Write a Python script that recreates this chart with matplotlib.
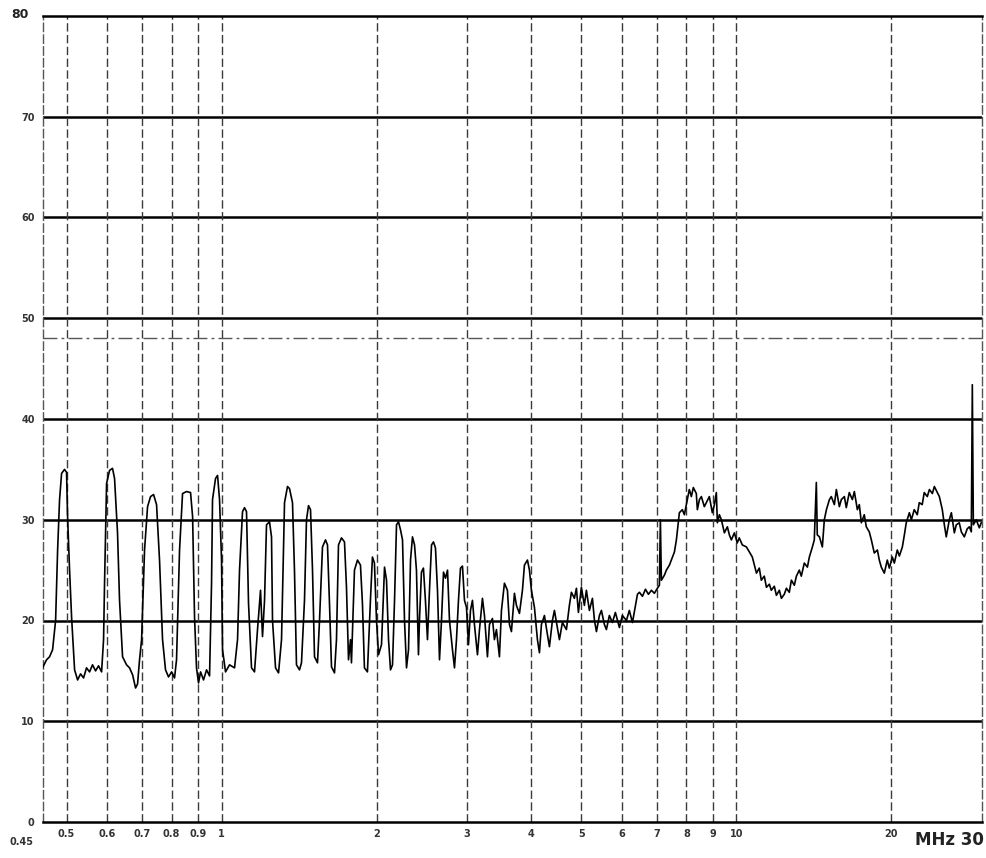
import matplotlib
matplotlib.use("Agg")
import matplotlib.pyplot as plt

# Conducted emission scan, 0.45 - 30 MHz, level in dBuV
freq_low = [0.449, 0.4572, 0.4634, 0.4697, 0.4761, 0.4804, 0.4846, 0.4890, 0.4955, 0.5000,
            0.5023, 0.5068, 0.5114, 0.5183, 0.5253, 0.5323, 0.5395, 0.5467, 0.5542, 0.5616,
            0.5692, 0.5769, 0.5848, 0.5900, 0.5926, 0.5980, 0.6060, 0.6141, 0.6197, 0.6280,
            0.6337, 0.6423, 0.6539, 0.6627, 0.6719, 0.6808, 0.6869, 0.6930, 0.6994, 0.7087,
            0.7183, 0.7280, 0.7379, 0.7478, 0.7578, 0.7681, 0.7784, 0.7889, 0.7998, 0.8104,
            0.8177, 0.8288, 0.8400, 0.8551, 0.8706, 0.8786, 0.8863, 0.8941, 0.9022, 0.9105,
            0.9226, 0.9352, 0.9478, 0.9563, 0.9605, 0.9735, 0.9823, 0.9911, 1.0000, 1.0045,
            1.018, 1.0364]
level_low = [15.3, 16.1, 16.4, 17.1, 20.0, 27.0, 32.0, 34.6, 35.0, 34.7,
             30.3, 25.0, 20.3, 15.1, 14.1, 14.7, 14.3, 15.3, 14.9, 15.6,
             15.0, 15.5, 14.9, 18.1, 23.7, 33.6, 34.9, 35.1, 34.1, 28.7,
             22.0, 16.4, 15.6, 15.3, 14.6, 13.3, 13.7, 16.1, 18.1, 27.0,
             31.3, 32.3, 32.5, 31.5, 26.0, 18.1, 15.1, 14.4, 14.9, 14.3,
             16.1, 27.0, 32.6, 32.8, 32.7, 30.3, 20.3, 15.3, 13.8, 14.9,
             14.1, 15.1, 14.5, 23.7, 32.0, 34.1, 34.4, 32.0, 26.0, 17.1,
             14.9, 15.6]

freq_mid = [1.0599, 1.0742, 1.0838, 1.0984, 1.1083, 1.1182, 1.1283, 1.1435, 1.1589, 1.1746,
            1.1905, 1.2011, 1.2120, 1.2228, 1.2393, 1.2505, 1.2561, 1.2732, 1.2903, 1.3077,
            1.3254, 1.3432, 1.3552, 1.3735, 1.3857, 1.3982, 1.4171, 1.4299, 1.4492, 1.4622,
            1.4755, 1.4888, 1.5021, 1.5156, 1.5360, 1.5499, 1.5707, 1.5920, 1.6062, 1.6206,
            1.6352, 1.6574, 1.6721, 1.6872, 1.7100, 1.7331, 1.7486, 1.7645, 1.7803, 1.7880,
            1.8122, 1.8367, 1.8614, 1.8780, 1.8948, 1.9204, 1.9463, 1.9639, 1.9815, 2.0000,
            2.0180, 2.0452, 2.0729, 2.0915, 2.1103, 2.1292, 2.1483, 2.1678, 2.1871, 2.2066,
            2.2266, 2.2466, 2.2668, 2.2872, 2.3078, 2.3285, 2.3490, 2.3706, 2.3912, 2.4127,
            2.4234, 2.4452, 2.4669, 2.4891, 2.5119, 2.5346, 2.5577, 2.5802, 2.6034, 2.6270,
            2.6507, 2.6745, 2.6986, 2.7228, 2.7475, 2.7719, 2.8092, 2.8345, 2.8599, 2.8855,
            2.9115, 2.9376, 2.9640, 2.9907]
level_mid = [15.3, 18.1, 25.0, 30.8, 31.2, 30.8, 21.7, 15.3, 14.9, 19.1,
             23.0, 18.4, 22.0, 29.5, 29.8, 28.3, 20.0, 15.3, 14.8, 18.1,
             31.7, 33.3, 33.1, 31.7, 25.0, 15.6, 15.1, 15.8, 22.0, 30.0,
             31.4, 31.0, 25.0, 16.4, 15.8, 20.0, 27.3, 28.0, 27.5, 21.7,
             15.4, 14.8, 18.1, 27.5, 28.2, 27.8, 23.3, 16.1, 18.1, 15.8,
             25.0, 26.0, 25.5, 21.7, 15.3, 14.9, 22.0, 26.3, 25.7, 20.0,
             16.6, 17.6, 25.3, 24.0, 18.1, 15.1, 15.6, 22.0, 29.5, 29.8,
             29.0, 28.0, 20.0, 15.3, 17.1, 26.0, 28.3, 27.5, 25.0, 16.6,
             20.0, 24.8, 25.2, 22.0, 18.1, 23.0, 27.5, 27.8, 27.2, 23.0,
             16.1, 20.0, 24.8, 24.2, 25.0, 20.0, 17.1, 15.3, 18.1, 22.0,
             25.2, 25.4, 22.0, 21.3]

freq_floor = [3.0176, 3.0446, 3.0718, 3.0992, 3.1413, 3.1697, 3.2123, 3.2413, 3.2848, 3.3143,
              3.3590, 3.3888, 3.4198, 3.4657, 3.4971, 3.5440, 3.5918, 3.6247, 3.6568, 3.7063,
              3.7394, 3.7901, 3.8414, 3.8757, 3.9281, 3.9634, 3.9987, 4.0531, 4.1075, 4.1447,
              4.1817, 4.2384, 4.2954, 4.3341, 4.3923, 4.4320, 4.4916, 4.5321, 4.5928, 4.6764,
              4.7387, 4.7821, 4.8460, 4.8901, 4.9339, 5.0000, 5.0673, 5.113, 5.1822, 5.253,
              5.3014, 5.348, 5.4200, 5.469, 5.5420, 5.592, 5.6670, 5.743, 5.8210, 5.927,
              6.0050, 6.116, 6.1960, 6.283, 6.3680, 6.4250, 6.482, 6.5700, 6.6590, 6.7480,
              6.8390, 6.931, 7.0240, 7.088, 7.119, 7.151]
level_floor = [17.6, 21.0, 22.0, 19.6, 16.6, 19.1, 22.2, 20.5, 16.4, 19.6,
               20.2, 18.1, 19.1, 16.4, 21.0, 23.7, 23.0, 19.6, 18.9, 22.7,
               21.5, 20.7, 23.0, 25.5, 26.0, 25.0, 23.0, 21.3, 18.1, 16.8,
               19.6, 20.5, 18.6, 17.4, 20.0, 21.0, 19.3, 18.1, 19.8, 19.1,
               21.5, 22.8, 22.2, 23.2, 20.8, 23.3, 21.5, 23.0, 21.0, 22.2,
               20.0, 18.9, 20.5, 21.0, 19.6, 19.1, 20.5, 19.8, 20.8, 19.3,
               20.5, 20.0, 21.0, 19.8, 21.5, 22.6, 22.8, 22.4, 23.1, 22.6,
               23.0, 22.7, 23.2, 23.5, 30.0, 24.0]

freq_high = [7.248, 7.313, 7.4130, 7.478, 7.5800, 7.647, 7.750, 7.855, 7.9250, 7.996,
             8.102, 8.1770, 8.249, 8.360, 8.399, 8.477, 8.551, 8.6650, 8.744, 8.862,
             8.981, 9.065, 9.143, 9.186, 9.2680, 9.352, 9.478, 9.606, 9.6920, 9.779,
             9.911, 10.04, 10.13, 10.27, 10.46, 10.60, 10.74, 10.94, 11.08, 11.18,
             11.33, 11.44, 11.59, 11.69, 11.85, 11.96, 12.12, 12.23, 12.39, 12.51,
             12.67, 12.79, 12.96, 13.08, 13.25, 13.37, 13.55, 13.74, 13.86, 14.05,
             14.17, 14.30, 14.36, 14.50, 14.69, 14.82, 14.96, 15.16, 15.29, 15.50,
             15.64, 15.85, 15.99, 16.21, 16.35, 16.57, 16.80, 16.95, 17.18, 17.33,
             17.49, 17.72, 17.88, 18.12, 18.29, 18.53, 18.79, 18.95, 19.12, 19.38,
             19.64, 19.82, 20.09, 20.27, 20.54, 20.73, 21.01, 21.20, 21.38, 21.68,
             21.87, 22.16, 22.46, 22.66, 22.96, 23.17, 23.49, 23.71, 24.03, 24.24,
             24.57, 24.79, 25.12, 25.35, 25.57, 25.92, 26.16, 26.51, 26.74, 27.10,
             27.35, 27.72, 28.08, 28.35, 28.60, 28.73, 28.86, 29.24, 29.64, 29.90]
level_high = [24.5, 25.0, 25.5, 26.0, 26.8, 28.0, 30.7, 31.0, 30.5, 31.5,
              33.0, 32.3, 33.2, 32.6, 31.0, 32.0, 32.3, 31.3, 31.7, 32.3,
              30.7, 31.5, 32.7, 29.7, 30.5, 30.0, 28.7, 29.3, 28.5, 28.0,
              28.7, 27.7, 28.2, 27.5, 27.3, 26.8, 26.3, 24.7, 25.2, 24.0,
              24.4, 23.3, 23.6, 23.0, 23.4, 22.5, 23.0, 22.2, 22.6, 23.2,
              22.8, 24.0, 23.5, 24.4, 25.0, 24.4, 25.7, 25.3, 26.3, 27.3,
              28.0, 33.7, 28.5, 28.3, 27.3, 30.0, 31.0, 32.0, 32.3, 31.5,
              33.0, 31.3, 32.0, 32.3, 31.2, 32.7, 32.0, 32.8, 31.0, 31.5,
              29.7, 30.5, 29.3, 28.8, 28.0, 26.7, 27.0, 26.0, 25.3, 24.7,
              26.0, 25.2, 26.3, 25.7, 27.0, 26.4, 27.3, 28.5, 29.7, 30.7,
              30.0, 31.0, 30.5, 31.7, 31.5, 32.7, 32.3, 33.0, 32.6, 33.3,
              32.7, 32.3, 31.0, 29.5, 28.3, 30.0, 30.7, 28.7, 29.5, 29.7,
              28.8, 28.3, 29.1, 29.3, 28.8, 43.4, 29.5, 30.0, 29.2, 29.7]

freq_mhz = freq_low + freq_mid + freq_floor + freq_high
level_dbuv = level_low + level_mid + level_floor + level_high

limit_dbuv = 48.0
grid_freqs = [0.5, 0.6, 0.7, 0.8, 0.9, 1, 2, 3, 4, 5, 6, 7, 8, 9, 10, 20]
x_labels = ["0.5", "0.6", "0.7", "0.8", "0.9", "1", "2", "3", "4", "5",
            "6", "7", "8", "9", "10", "20"]
grid_levels = [10, 20, 30, 40, 50, 60, 70]
y_labels = ["0", "10", "20", "30", "40", "50", "60", "70"]

W, H = 986, 858
fig = plt.figure(figsize=(W / 100, H / 100), dpi=100)
fig.patch.set_facecolor("white")
ax = fig.add_axes([43 / W, 1 - 822 / H, (982 - 43) / W, (822 - 16) / H])
ax.set_xscale("log")
ax.set_xlim(0.45, 30)
ax.set_ylim(0, 80)

# grid: solid level lines, dashed frequency lines
for lv in grid_levels:
    ax.axhline(lv, color="black", lw=1.8, zorder=2)
for f in grid_freqs:
    ax.axvline(f, color="#3a3a3a", lw=1.0, ls=(0, (6, 2.5)), zorder=2)

# limit line
ax.axhline(limit_dbuv, color="#555555", lw=1.0, ls=(0, (10, 3, 2, 3)), zorder=2)

# measured trace
ax.plot(freq_mhz, level_dbuv, color="black", lw=1.2, zorder=3)

for side in ("top", "bottom"):
    ax.spines[side].set_linewidth(1.8)
    ax.spines[side].set_color("black")
for side in ("left", "right"):
    ax.spines[side].set_linestyle((0, (6, 2.5)))
    ax.spines[side].set_color("#555555")
    ax.spines[side].set_linewidth(1.0)

ax.set_xticks(grid_freqs)
ax.set_xticklabels(x_labels, fontsize=7, color="#333333", fontweight="bold")
ax.xaxis.set_minor_locator(matplotlib.ticker.NullLocator())
ax.set_yticks(list(range(0, 80, 10)))
ax.set_yticklabels(y_labels, fontsize=7, color="#333333", fontweight="bold")
ax.tick_params(axis="both", length=0)
ax.tick_params(axis="x", pad=5)
ax.tick_params(axis="y", pad=6)

# corner annotations
fig.text(20 / W, 1 - 14 / H, "80", fontsize=9, fontweight="bold", color="#222222",
         ha="center", va="center")
fig.text(22 / W, 1 - 842 / H, "0.45", fontsize=7, fontweight="bold", color="#333333",
         ha="center", va="center")
fig.text(984 / W, 1 - 840 / H, "MHz 30", fontsize=12, fontweight="bold", color="#222222",
         ha="right", va="center")

fig.savefig("out.png", dpi=100, facecolor="white")
